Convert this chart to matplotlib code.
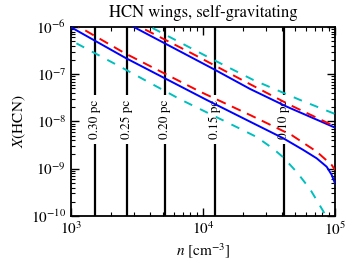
import matplotlib
matplotlib.use("Agg")
import matplotlib.pyplot as plt
from matplotlib.ticker import LogLocator, NullFormatter

plt.rcParams["font.family"] = "serif"
plt.rcParams["font.serif"] = ["STIXGeneral", "Liberation Serif", "DejaVu Serif"]
plt.rcParams["mathtext.fontset"] = "stix"

# radii of the marked shells and the density at each (n ~ r^-3)
radius_labels = ["0.30 pc", "0.25 pc", "0.20 pc", "0.15 pc", "0.10 pc"]
radius_n = [1530, 2640, 5160, 12240, 41300]

# upper group
up_blue_n = [2965, 12110, 22700, 43050, 1e5]
up_blue_x = [1.01e-6, 1.27e-7, 4.88e-8, 2.06e-8, 7.40e-9]
up_red_n = [2818, 8204, 22030, 45600, 1e5]
up_red_x = [1.27e-6, 2.77e-7, 6.43e-8, 2.23e-8, 7.83e-9]
up_cyan_n = [3162, 10965, 24040, 54330, 1e5]
up_cyan_x = [1.41e-6, 2.29e-7, 7.55e-8, 2.85e-8, 1.44e-8]

# lower group (turns down at high density)
lo_blue_n = [1000, 2612, 10670, 22700, 40550, 57540, 72610, 86500, 94400, 1e5]
lo_blue_x = [9.86e-7, 2.18e-7, 2.85e-8, 9.9e-9, 4.41e-9, 2.49e-9, 1.66e-9,
             1.10e-9, 7.4e-10, 4.9e-10]
lo_red_n = [1000, 2564, 9484, 22700, 46990, 72610, 94400, 1e5]
lo_red_x = [1.26e-6, 2.77e-7, 4.28e-8, 1.37e-8, 5.13e-9, 2.30e-9, 1.20e-9, 9.4e-10]
lo_cyan_n = [1100, 2477, 6699, 19950, 25530, 34120, 40550, 51290, 64710,
             81470, 89130]
lo_cyan_x = [4.5e-7, 1.34e-7, 2.95e-8, 6.6e-9, 4.68e-9, 2.63e-9, 1.74e-9,
             8.5e-10, 3.7e-10, 1.26e-10, 7.9e-11]

fig = plt.figure(figsize=(3.53, 2.64), dpi=100)
ax = fig.add_axes([0.201, 0.182, 0.748, 0.716])

for n in radius_n:
    ax.plot([n, n], [1e-10, 1e-6], color="k", lw=1.6, zorder=2)
for n, lab in zip(radius_n, radius_labels):
    ax.text(n, 1.1e-8, lab, rotation=90, ha="center", va="center", fontsize=9.5,
            zorder=2.5, bbox=dict(facecolor="white", edgecolor="none", pad=3.5))

for nn, xx in [(up_blue_n, up_blue_x), (lo_blue_n, lo_blue_x)]:
    ax.plot(nn, xx, color="b", lw=1.4, zorder=3)
for nn, xx in [(up_red_n, up_red_x), (lo_red_n, lo_red_x)]:
    ax.plot(nn, xx, color="r", lw=1.4, dashes=(5, 3.5), zorder=3)
for nn, xx in [(up_cyan_n, up_cyan_x), (lo_cyan_n, lo_cyan_x)]:
    ax.plot(nn, xx, color="c", lw=1.4, dashes=(4.5, 4.5), zorder=3)

ax.set_xscale("log")
ax.set_yscale("log")
ax.set_xlim(1e3, 1e5)
ax.set_ylim(1e-10, 1e-6)
ax.yaxis.set_major_locator(LogLocator(base=10, numticks=10))
ax.yaxis.set_minor_locator(LogLocator(base=10, subs=range(2, 10), numticks=20))
ax.yaxis.set_minor_formatter(NullFormatter())
ax.xaxis.set_minor_formatter(NullFormatter())

ax.tick_params(which="both", direction="in", top=True, right=True, labelsize=11)
ax.tick_params(which="major", length=6, width=1)
ax.tick_params(which="minor", length=3, width=0.8)
for s in ax.spines.values():
    s.set_linewidth(1.3)

ax.set_xlabel(r"$n$ [cm$^{-3}$]", fontsize=11, labelpad=2)
ax.set_ylabel(r"$X$(HCN)", fontsize=11, labelpad=2)
ax.set_title("HCN wings, self-gravitating", fontsize=12, pad=7)

fig.savefig("out.png", dpi=100)
